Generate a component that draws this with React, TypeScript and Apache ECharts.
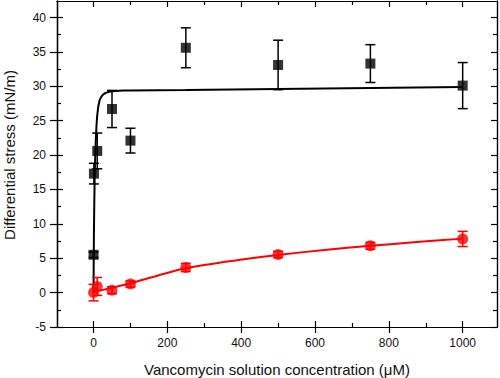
import React, { useEffect, useRef } from "react";
import * as echarts from "echarts";

// Black squares: [concentration, stress, error]
const blackX = [0, 1, 10, 50, 100, 250, 500, 750, 1000];
const blackY = [5.5, 17.3, 20.6, 26.7, 22.1, 35.6, 33.1, 33.3, 30.1];
const blackErr = [0.4, 1.5, 2.6, 2.7, 1.8, 2.9, 3.6, 2.75, 3.35];

// Red circles
const redX = [0, 10, 50, 100, 250, 500, 750, 1000];
const redY = [0.0, 0.9, 0.35, 1.25, 3.65, 5.55, 6.8, 7.8];
const redErr = [1.2, 1.3, 0.5, 0.45, 0.6, 0.45, 0.5, 1.1];

// Fit curves
const blackFitX = [0, 0.5, 1, 2, 3, 4, 5, 6, 8, 10, 13, 16, 20, 25, 30, 35, 40, 50, 60, 80, 100, 250, 500, 750, 1000];
const blackFitY = [0, 5, 8.5, 13, 16.5, 18.8, 20.5, 22, 24.3, 25.8, 27.1, 27.9, 28.4, 28.75, 28.95, 29.08, 29.17, 29.27, 29.32, 29.37, 29.4, 29.45, 29.6, 29.75, 29.9];
const redFitX = [0, 50, 100, 175, 250, 375, 500, 625, 750, 875, 1000];
const redFitY = [0.1, 0.7, 1.35, 2.5, 3.53, 4.6, 5.47, 6.2, 6.8, 7.35, 7.85];

const xMajor = [0, 200, 400, 600, 800, 1000];
const xMinor = [100, 300, 500, 700, 900];
const yMajor = [-5, 0, 5, 10, 15, 20, 25, 30, 35, 40];
const yMinor = [-2.5, 2.5, 7.5, 12.5, 17.5, 22.5, 27.5, 32.5, 37.5];

const FONT = "Liberation Sans, Arial, sans-serif";

function errRender(color: string) {
  return (params: any, api: any) => {
    const x = api.value(0);
    const y = api.value(1);
    const e = api.value(2);
    const p1 = api.coord([x, y + e]);
    const p2 = api.coord([x, y - e]);
    const w = 5;
    const style = { stroke: color, lineWidth: 1.5 };
    return {
      type: "group",
      children: [
        { type: "line", shape: { x1: p1[0], y1: p1[1], x2: p2[0], y2: p2[1] }, style },
        { type: "line", shape: { x1: p1[0] - w, y1: p1[1], x2: p1[0] + w, y2: p1[1] }, style },
        { type: "line", shape: { x1: p2[0] - w, y1: p2[1], x2: p2[0] + w, y2: p2[1] }, style },
      ],
    };
  };
}

export default function App() {
  const ref = useRef<HTMLDivElement>(null);
  useEffect(() => {
    if (!ref.current) return;
    const chart = echarts.init(ref.current, undefined, { renderer: "svg" });
    const XMIN = -99;
    const XMAX = 1093;
    const YMIN = -5;
    const YMAX = 42.4;
    const lineStyle = { color: "#000", width: 1.2 };
    const mkX = (opts: any) => ({
      type: "value",
      min: XMIN,
      max: XMAX,
      splitLine: { show: false },
      axisLine: { show: true, onZero: false, lineStyle },
      axisLabel: { show: false },
      ...opts,
    });
    const mkY = (opts: any) => ({
      type: "value",
      min: YMIN,
      max: YMAX,
      splitLine: { show: false },
      axisLine: { show: true, onZero: false, lineStyle },
      axisLabel: { show: false },
      ...opts,
    });
    const xAxes = [
      mkX({
        position: "bottom",
        axisTick: { show: true, inside: false, length: 6, customValues: xMajor, lineStyle },
        axisLabel: {
          show: true,
          customValues: xMajor,
          formatter: (v: number) => String(v),
          margin: 10,
          fontSize: 12,
          fontFamily: FONT,
          color: "#111",
        },
      }),
      mkX({ position: "bottom", axisTick: { show: true, inside: true, length: 6, customValues: xMajor, lineStyle } }),
      mkX({ position: "bottom", axisTick: { show: true, inside: true, length: 4, customValues: xMinor, lineStyle } }),
      mkX({ position: "top", axisTick: { show: true, inside: true, length: 6, customValues: xMajor, lineStyle } }),
      mkX({ position: "top", axisTick: { show: true, inside: true, length: 4, customValues: xMinor, lineStyle } }),
    ];
    const yAxes = [
      mkY({
        position: "left",
        axisTick: { show: true, inside: false, length: 7, customValues: yMajor, lineStyle },
        axisLabel: {
          show: true,
          customValues: yMajor,
          formatter: (v: number) => String(v),
          margin: 11,
          fontSize: 12,
          fontFamily: FONT,
          color: "#111",
        },
      }),
      mkY({ position: "left", axisTick: { show: true, inside: true, length: 6, customValues: yMajor, lineStyle } }),
      mkY({ position: "left", axisTick: { show: true, inside: true, length: 4, customValues: yMinor, lineStyle } }),
      mkY({ position: "right", axisTick: { show: true, inside: true, length: 6, customValues: yMajor, lineStyle } }),
      mkY({ position: "right", axisTick: { show: true, inside: true, length: 4, customValues: yMinor, lineStyle } }),
    ];
    const zip = (xs: number[], ys: number[]) => xs.map((x, i) => [x, ys[i]]);
    const zip3 = (xs: number[], ys: number[], es: number[]) => xs.map((x, i) => [x, ys[i], es[i]]);
    chart.setOption({
      animation: false,
      backgroundColor: "#fff",
      grid: { left: 57, top: 1, width: 440, height: 326, containLabel: false },
      xAxis: xAxes,
      yAxis: yAxes,
      graphic: [
        {
          type: "text",
          x: 277,
          y: 369,
          style: {
            text: "Vancomycin solution concentration (\u03bcM)",
            font: `15px ${FONT}`,
            fill: "#111",
            align: "center",
            verticalAlign: "middle",
          },
        },
        {
          type: "text",
          x: 9,
          y: 155,
          rotation: Math.PI / 2,
          style: {
            text: "Differential stress (mN/m)",
            font: `15px ${FONT}`,
            fill: "#111",
            align: "center",
            verticalAlign: "middle",
          },
        },
      ],
      series: [
        {
          type: "line",
          data: zip(blackFitX, blackFitY),
          showSymbol: false,
          symbol: "none",
          lineStyle: { color: "#000", width: 2 },
          z: 2,
        },
        {
          type: "line",
          data: zip(redFitX, redFitY),
          showSymbol: false,
          symbol: "none",
          smooth: 0.3,
          lineStyle: { color: "#ff0000", width: 2 },
          z: 2,
        },
        {
          type: "custom",
          renderItem: errRender("#000"),
          data: zip3(blackX, blackY, blackErr),
          z: 3,
        },
        {
          type: "custom",
          renderItem: errRender("#ff0000"),
          data: zip3(redX, redY, redErr),
          z: 3,
        },
        {
          type: "scatter",
          data: zip(blackX, blackY),
          symbol: "rect",
          symbolSize: 10,
          itemStyle: { color: "#000" },
          z: 4,
        },
        {
          type: "scatter",
          data: zip(redX, redY),
          symbol: "circle",
          symbolSize: 11,
          itemStyle: { color: "#ff0000" },
          z: 4,
        },
      ],
    });
    return () => chart.dispose();
  }, []);
  return (
    <div
      ref={ref}
      style={{ position: "fixed", left: 0, top: 0, width: 500, height: 378 }}
    />
  );
}
